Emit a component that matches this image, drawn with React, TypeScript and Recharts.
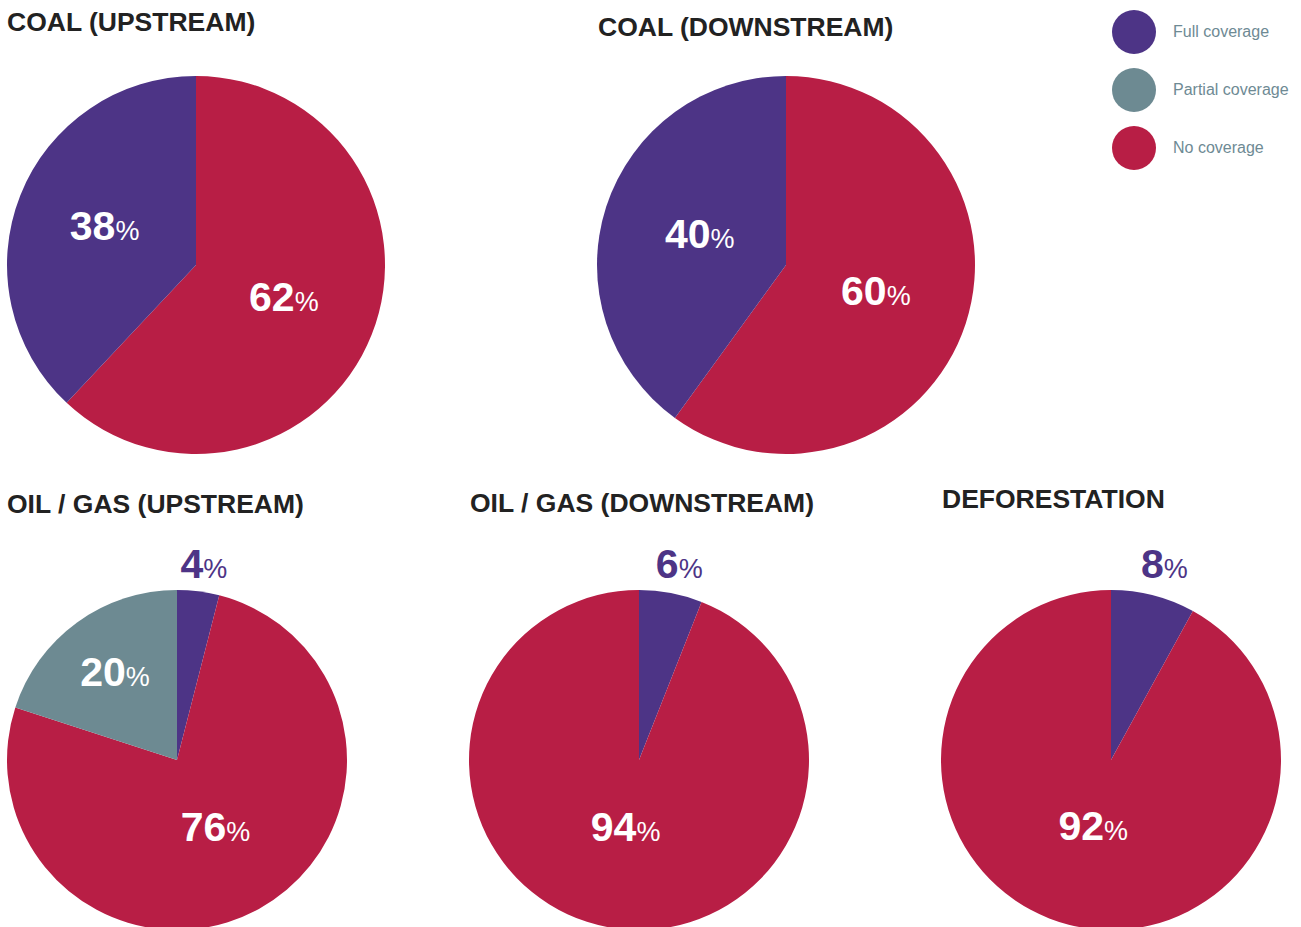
import { PieChart, Pie, Cell } from "recharts";

const PURPLE = "#4d3486";
const GRAY = "#6d8a92";
const RED = "#b81e45";

const legendNames = ["Full coverage", "Partial coverage", "No coverage"];
const legendColors = [PURPLE, GRAY, RED];

// slices are listed clockwise from 12 o'clock
const coalUpNames = ["No coverage", "Full coverage"];
const coalUpValues = [62, 38];

const coalDownNames = ["No coverage", "Full coverage"];
const coalDownValues = [60, 40];

const oilUpNames = ["Full coverage", "No coverage", "Partial coverage"];
const oilUpValues = [4, 76, 20];

const oilDownNames = ["Full coverage", "No coverage"];
const oilDownValues = [6, 94];

const deforNames = ["Full coverage", "No coverage"];
const deforValues = [8, 92];

const titles = [
  "COAL (UPSTREAM)",
  "COAL (DOWNSTREAM)",
  "OIL / GAS (UPSTREAM)",
  "OIL / GAS (DOWNSTREAM)",
  "DEFORESTATION",
];

const colorOf = (name: string) => legendColors[legendNames.indexOf(name)];
const toRows = (names: string[], values: number[]) =>
  names.map((name, i) => ({ name, value: values[i] }));

const RADIAN = Math.PI / 180;
const FONT = "'Liberation Sans', Arial, Helvetica, sans-serif";

// lr: label distance from centre per slice, as a share of the radius
const makeLabel = (lr: number[]) => (props: any) => {
  const { cx, cy, midAngle, outerRadius, value, index } = props;
  const a = -midAngle * RADIAN;
  let x: number;
  let y: number;
  let fill = "#fff";
  if (value < 10) {
    x = cx + (outerRadius + 45) * Math.cos(a);
    y = cy - outerRadius - 12;
    fill = PURPLE;
  } else {
    const r = outerRadius * lr[index];
    x = cx + r * Math.cos(a);
    y = cy + r * Math.sin(a) + 11;
  }
  return (
    <text x={x} y={y} textAnchor="middle" fill={fill} fontFamily={FONT}>
      <tspan fontWeight="bold" fontSize={41}>
        {value}
      </tspan>
      <tspan fontSize={27}>%</tspan>
    </text>
  );
};

const pies = [
  { names: coalUpNames, values: coalUpValues, cx: 196, cy: 265, r: 189, lr: [0.5, 0.52] },
  { names: coalDownNames, values: coalDownValues, cx: 786, cy: 265, r: 189, lr: [0.5, 0.48] },
  { names: oilUpNames, values: oilUpValues, cx: 177, cy: 760, r: 170, lr: [0.5, 0.47, 0.62] },
  { names: oilDownNames, values: oilDownValues, cx: 639, cy: 760, r: 170, lr: [0.5, 0.42] },
  { names: deforNames, values: deforValues, cx: 1111, cy: 760, r: 170, lr: [0.5, 0.42] },
];

const titlePos = [
  [7, 31],
  [598, 36],
  [7, 513],
  [470, 512],
  [942, 508],
];

export default function App() {
  return (
    <div style={{ position: "absolute", left: 0, top: 0, width: 1301, height: 927, background: "#fff" }}>
      <PieChart width={1301} height={927} margin={{ top: 0, right: 0, bottom: 0, left: 0 }}>
        {pies.map((p, i) => (
          <Pie
            key={i}
            data={toRows(p.names, p.values)}
            dataKey="value"
            nameKey="name"
            cx={p.cx}
            cy={p.cy}
            outerRadius={p.r}
            startAngle={90}
            endAngle={-270}
            stroke="none"
            labelLine={false}
            label={makeLabel(p.lr)}
            isAnimationActive={false}
          >
            {p.names.map((n) => (
              <Cell key={n} fill={colorOf(n)} />
            ))}
          </Pie>
        ))}
      </PieChart>
      <svg
        width={1301}
        height={927}
        style={{ position: "absolute", left: 0, top: 0, pointerEvents: "none" }}
      >
        {titles.map((t, i) => (
          <text
            key={t}
            x={titlePos[i][0]}
            y={titlePos[i][1]}
            fontFamily={FONT}
            fontWeight="bold"
            fontSize={26.5}
            fill="#222"
          >
            {t}
          </text>
        ))}
        {legendNames.map((n, i) => (
          <g key={n}>
            <circle cx={1134} cy={32 + i * 58} r={22} fill={legendColors[i]} />
            <text x={1173} y={37 + i * 58} fontFamily={FONT} fontSize={16} fill="#6e8a94">
              {n}
            </text>
          </g>
        ))}
      </svg>
    </div>
  );
}
